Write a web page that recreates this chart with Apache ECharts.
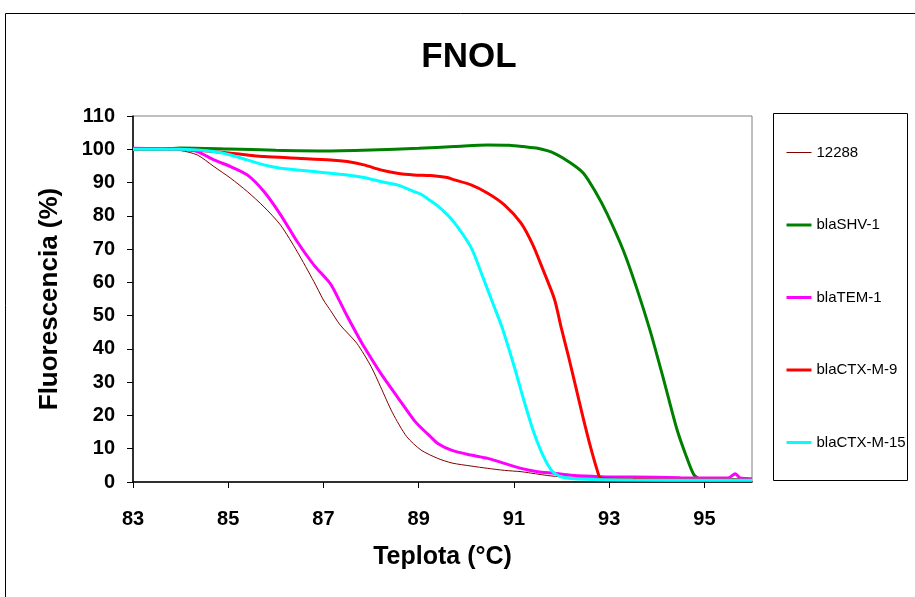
<!DOCTYPE html>
<html>
<head>
<meta charset="utf-8">
<script src="https://cdn.jsdelivr.net/npm/echarts@6/dist/echarts.min.js"></script>
<style>html,body{margin:0;padding:0;background:#fff;}#c{width:915px;height:597px;}</style>
</head>
<body>
<div id="c"></div>
<script>
var seriesNames = ['12288', 'blaSHV-1', 'blaTEM-1', 'blaCTX-M-9', 'blaCTX-M-15'];
var xTicks = [83, 85, 87, 89, 91, 93, 95];
var yTicks = [0, 10, 20, 30, 40, 50, 60, 70, 80, 90, 100, 110];

var t12288 = [83, 83.5, 84.0, 84.35, 84.7, 85.05, 85.4, 85.75, 86.1, 86.45, 86.8, 87.0, 87.15, 87.35, 87.7, 88.0, 88.2, 88.45, 88.75, 89.05, 89.4, 89.7, 90.1, 90.45, 90.8, 91.15, 91.35, 91.8, 92.5, 93.5, 94.5, 96];
var v12288 = [100, 100, 99.6, 98.3, 94.8, 91.3, 87.3, 82.7, 77.2, 69.2, 60.2, 54.7, 51.5, 47.2, 41.7, 34.7, 28.6, 20.8, 13.6, 9.6, 7.1, 5.7, 4.8, 4.1, 3.5, 3.1, 2.7, 1.8, 1.2, 1.0, 0.9, 0.8];

var tSHV = [83, 83.5, 84, 85, 86, 87, 88, 89, 89.75, 90.45, 90.9, 91.2, 91.5, 91.85, 92.2, 92.46, 92.7, 92.95, 93.3, 93.58, 93.86, 94.14, 94.42, 94.6, 94.77, 94.9, 95.2, 96];
var vSHV = [100, 100, 100.4, 100.1, 99.7, 99.5, 99.8, 100.3, 100.8, 101.3, 101.2, 100.8, 100.3, 98.8, 95.8, 92.8, 87.5, 80.8, 69.5, 58.2, 45.5, 31, 16, 8.5, 2.4, 0.9, 0.7, 0.6];

var tTEM = [83, 83.5, 84.0, 84.35, 84.7, 85.05, 85.4, 85.75, 86.1, 86.45, 86.8, 87.15, 87.3, 87.5, 87.7, 87.85, 88.2, 88.55, 88.9, 89.05, 89.25, 89.4, 89.7, 90.1, 90.45, 90.8, 91.15, 91.5, 91.85, 92.2, 92.8, 93.5, 94.5, 95.5, 95.65, 95.75, 96];
var vTEM = [100.3, 100.2, 100.0, 99.3, 96.8, 94.8, 92.3, 87.3, 80.3, 72.2, 65.2, 59.5, 55.5, 49.8, 44.5, 40.7, 32.7, 25.6, 18.6, 16.3, 13.6, 11.6, 9.5, 8.1, 7.1, 5.6, 4.1, 3.1, 2.6, 2.0, 1.6, 1.5, 1.3, 1.2, 2.5, 1.2, 1.0];

var tCTX9 = [83, 83.5, 84.0, 84.7, 85.05, 85.4, 85.75, 86.45, 87.15, 87.5, 87.85, 88.2, 88.55, 88.9, 89.25, 89.6, 89.75, 90.1, 90.45, 90.8, 91.15, 91.4, 91.6, 91.85, 92.0, 92.15, 92.3, 92.45, 92.6, 92.75, 92.82, 93.2, 94, 95, 96];
var vCTX9 = [100, 100, 100, 99.3, 98.8, 98.3, 97.8, 97.3, 96.8, 96.3, 95.3, 93.8, 92.8, 92.3, 92.1, 91.5, 90.8, 89.3, 86.8, 83.3, 77.8, 71.2, 64.2, 55, 46, 37.5, 28.5, 19.5, 11, 3.5, 1.2, 0.8, 0.6, 0.6, 0.5];

var tCTX15 = [83, 83.5, 84.0, 84.35, 84.7, 85.05, 85.4, 85.75, 86.1, 86.45, 86.8, 87.15, 87.5, 87.85, 88.2, 88.55, 88.9, 89.05, 89.25, 89.4, 89.6, 89.8, 90.1, 90.35, 90.55, 90.75, 91.0, 91.2, 91.4, 91.6, 91.8, 92.0, 92.5, 93.5, 95, 96];
var vCTX15 = [100, 100, 100, 99.8, 99.3, 98.3, 96.8, 95.3, 94.3, 93.8, 93.3, 92.8, 92.3, 91.5, 90.3, 89.3, 87.3, 86.5, 84.5, 83.0, 80.3, 77, 70.5, 61.5, 54, 46.5, 35, 25, 15.6, 8.3, 3.3, 1.5, 0.8, 0.6, 0.5, 0.5];

var colors = ['#800000', '#008000', '#FF00FF', '#FF0000', '#00FFFF'];
var widths = [1, 3, 3, 3, 3];

function pairs(t, v) { return t.map(function (x, i) { return [x, v[i]]; }); }
var allData = [pairs(t12288, v12288), pairs(tSHV, vSHV), pairs(tTEM, vTEM), pairs(tCTX9, vCTX9), pairs(tCTX15, vCTX15)];

var FONT = '"Liberation Sans", Arial, sans-serif';
var chart = echarts.init(document.getElementById('c'), null, { renderer: 'canvas' });
chart.setOption({
  animation: false,
  backgroundColor: '#fff',
  title: {
    text: 'FNOL', left: 464, top: 35, textAlign: 'center',
    textStyle: { fontFamily: FONT, fontWeight: 'bold', fontSize: 35, color: '#000' }
  },
  grid: { left: 133, right: 163, top: 116, bottom: 115, show: true, borderColor: '#808080', borderWidth: 1, backgroundColor: '#fff' },
  legend: {
    orient: 'vertical', left: 785, top: 145, padding: 0, itemWidth: 25, itemHeight: 14, itemGap: 57.5,
    data: seriesNames.map(function (n, i) { return { name: n, lineStyle: { width: widths[i], color: colors[i] } }; }),
    itemStyle: { opacity: 0 },
    textStyle: { fontFamily: FONT, fontSize: 15, lineHeight: 14, color: '#000' }
  },
  xAxis: {
    type: 'value', min: 83, max: 96, interval: 2,
    name: 'Teplota (°C)', nameLocation: 'middle', nameGap: 63,
    nameTextStyle: { fontFamily: FONT, fontWeight: 'bold', fontSize: 25, color: '#000' },
    axisLine: { lineStyle: { color: '#000', width: 1.5 } },
    axisTick: { show: true, length: 6, lineStyle: { color: '#000' } },
    axisLabel: { showMaxLabel: false, margin: 27, fontFamily: FONT, fontWeight: 'bold', fontSize: 20, color: '#000',
      formatter: function (v) { return xTicks.indexOf(v) >= 0 ? String(v) : ''; } },
    splitLine: { show: false }
  },
  yAxis: {
    type: 'value', min: 0, max: 110, interval: 10,
    name: 'Fluorescencia (%)', nameLocation: 'middle', nameGap: 70,
    nameTextStyle: { fontFamily: FONT, fontWeight: 'bold', fontSize: 26, color: '#000' },
    axisLine: { show: true, lineStyle: { color: '#000', width: 1.5 } },
    axisTick: { show: true, length: 6, lineStyle: { color: '#000' } },
    axisLabel: { margin: 18, fontFamily: FONT, fontWeight: 'bold', fontSize: 20, color: '#000',
      formatter: function (v) { return yTicks.indexOf(v) >= 0 ? String(v) : ''; } },
    splitLine: { show: false }
  },
  graphic: [
    { type: 'rect', shape: { x: 5.5, y: 13.5, width: 1000, height: 1000 }, style: { fill: 'none', stroke: '#000', lineWidth: 1 }, silent: true, z: -1 },
    { type: 'rect', shape: { x: 773.5, y: 113.5, width: 134, height: 367 }, style: { fill: 'none', stroke: '#000', lineWidth: 1 }, silent: true }
  ],
  series: seriesNames.map(function (n, i) {
    return {
      name: n, type: 'line', data: allData[i], showSymbol: false, symbol: 'none', smooth: 0.25,
      lineStyle: { color: colors[i], width: widths[i] }, itemStyle: { color: colors[i] },
      clip: true
    };
  })
});
</script>
</body>
</html>
